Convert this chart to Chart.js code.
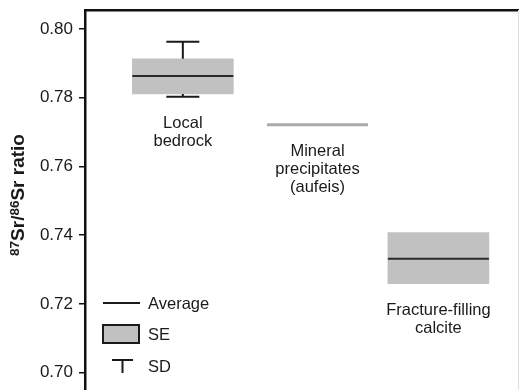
<!DOCTYPE html>
<html>
<head>
<meta charset="utf-8">
<script src="https://cdn.jsdelivr.net/npm/chart.js@4.4.1/dist/chart.umd.min.js"></script>
<style>
  html, body { margin: 0; padding: 0; background: #fff; }
  #wrap { width: 520px; height: 390px; }
</style>
</head>
<body>
<div id="wrap"><canvas id="c" width="520" height="390"></canvas></div>
<script>
// groups and where they sit along the (unlabelled) x axis
const groups = [['Local', 'bedrock'], ['Mineral', 'precipitates', '(aufeis)'], ['Fracture-filling', 'calcite']];
const groupPos = [0.83, 2.345, 3.705];

// 87Sr/86Sr values
const average = [0.7863, 0.7721, 0.7332];
const seLow   = [0.7811, null, 0.7259];
const seHigh  = [0.7913, null, 0.7408];
const sdLow   = [0.7803, null, null];
const sdHigh  = [0.7963, null, null];

const yTicks = [0.70, 0.72, 0.74, 0.76, 0.78, 0.80];

const FONT = '"Liberation Sans", Arial, Helvetica, sans-serif';
const BOX_GREY = '#c1c1c1';

// SD stems: box edge -> SD value, separated by gaps
const stems = [];
groupPos.forEach((x, i) => {
    if (sdHigh[i] !== null) {
        stems.push({x: x, y: seHigh[i]}, {x: x, y: sdHigh[i]}, {x: x, y: null});
    }
    if (sdLow[i] !== null) {
        stems.push({x: x, y: seLow[i]}, {x: x, y: sdLow[i]}, {x: x, y: null});
    }
});
const caps = [];
groupPos.forEach((x, i) => {
    if (sdHigh[i] !== null) caps.push({x: x, y: sdHigh[i]});
    if (sdLow[i] !== null) caps.push({x: x, y: sdLow[i]});
});

// labels under each group, the y-axis title, the legend and frame
const extras = {
    id: 'extras',
    afterDraw(chart) {
        const ctx = chart.ctx;
        const xs = chart.scales.x, ys = chart.scales.y;
        const area = chart.chartArea;
        ctx.save();

        // faint right frame
        ctx.strokeStyle = '#dedede';
        ctx.lineWidth = 1;
        ctx.beginPath();
        ctx.moveTo(area.right + 0.5, area.top);
        ctx.lineTo(area.right + 0.5, area.bottom);
        ctx.stroke();

        // group labels
        ctx.fillStyle = '#1a1a1a';
        ctx.font = '16.5px ' + FONT;
        ctx.textAlign = 'center';
        ctx.textBaseline = 'middle';
        groups.forEach((lines, i) => {
            const vals = [average[i], seLow[i], sdLow[i]].filter(v => v !== null);
            const low = Math.min.apply(null, vals);
            const px = xs.getPixelForValue(groupPos[i]);
            const py = ys.getPixelForValue(low) + 27;
            lines.forEach((t, k) => ctx.fillText(t, px, py + k * 18));
        });

        // y-axis title with superscripts
        ctx.save();
        ctx.translate(18, 195);
        ctx.rotate(-Math.PI / 2);
        const parts = [['87', true], ['Sr/', false], ['86', true], ['Sr ratio', false]];
        const big = 'bold 19px ' + FONT, small = 'bold 13.5px ' + FONT;
        let total = 0;
        parts.forEach(p => { ctx.font = p[1] ? small : big; total += ctx.measureText(p[0]).width; });
        let cx = -total / 2;
        ctx.textAlign = 'left';
        ctx.textBaseline = 'alphabetic';
        parts.forEach(p => {
            ctx.font = p[1] ? small : big;
            ctx.fillText(p[0], cx, p[1] ? 1 : 6);
            cx += ctx.measureText(p[0]).width;
        });
        ctx.restore();

        // legend
        const lx = area.left + 18, tx = area.left + 63;
        ctx.font = '16.5px ' + FONT;
        ctx.textAlign = 'left';
        ctx.textBaseline = 'middle';
        ctx.strokeStyle = '#1a1a1a';
        ctx.lineWidth = 2;
        ctx.beginPath();
        ctx.moveTo(lx, 303);
        ctx.lineTo(lx + 37, 303);
        ctx.stroke();
        ctx.fillText('Average', tx, 304);

        ctx.fillStyle = BOX_GREY;
        ctx.fillRect(lx, 325, 36, 18);
        ctx.strokeRect(lx, 325, 36, 18);
        ctx.fillStyle = '#1a1a1a';
        ctx.fillText('SE', tx, 335);

        ctx.beginPath();
        ctx.moveTo(lx + 9, 360);
        ctx.lineTo(lx + 30, 360);
        ctx.moveTo(lx + 19.5, 360);
        ctx.lineTo(lx + 19.5, 373);
        ctx.stroke();
        ctx.fillText('SD', tx, 367);

        ctx.restore();
    }
};

const chart = new Chart(document.getElementById('c'), {
    type: 'bar',
    data: {
        datasets: [
            {
                label: 'SE',
                data: groupPos.map((x, i) => ({x: x, y: seLow[i] === null ? null : [seLow[i], seHigh[i]]})),
                backgroundColor: BOX_GREY,
                borderWidth: 0,
                barThickness: 101,
                order: 3
            },
            {
                type: 'line',
                label: 'SD',
                data: stems,
                borderColor: '#1a1a1a',
                borderWidth: 2,
                pointRadius: 0,
                spanGaps: false,
                order: 2
            },
            {
                type: 'scatter',
                label: 'SD caps',
                data: caps,
                pointStyle: 'line',
                pointRadius: 16.5,
                pointBorderColor: '#1a1a1a',
                pointBorderWidth: 2,
                order: 2
            },
            {
                type: 'scatter',
                label: 'Average',
                data: groupPos.map((x, i) => ({x: x, y: average[i]})),
                pointStyle: 'line',
                pointRadius: 50.5,
                pointBorderColor: ['#2a2a2a', '#ababab', '#2a2a2a'],
                pointBorderWidth: [2, 3, 2],
                order: 1
            }
        ]
    },
    options: {
        responsive: false,
        animation: false,
        layout: { autoPadding: false, padding: { top: 10, right: 2, bottom: 0, left: 0 } },
        plugins: {
            legend: { display: false },
            tooltip: { enabled: false }
        },
        scales: {
            x: {
                type: 'linear',
                position: 'top',
                min: 0,
                max: 4.33,
                grid: { display: false },
                ticks: { display: false },
                border: { display: true, color: '#111', width: 2.5 },
                afterFit: s => { s.height = 0; s.paddingLeft = 0; s.paddingRight = 0; }
            },
            y: {
                min: 0.695,
                max: 0.8055,
                afterBuildTicks: s => { s.ticks = yTicks.map(v => ({value: v})); },
                afterFit: s => { s.width = 85; s.paddingTop = 0; s.paddingBottom = 0; },
                grid: { drawOnChartArea: false, tickLength: 6, color: '#111', lineWidth: 1.5 },
                border: { display: true, color: '#111', width: 2.5 },
                ticks: {
                    padding: 6,
                    color: '#1a1a1a',
                    font: { family: FONT, size: 17 },
                    callback: v => v.toFixed(2)
                }
            }
        }
    },
    plugins: [extras]
});
</script>
</body>
</html>
